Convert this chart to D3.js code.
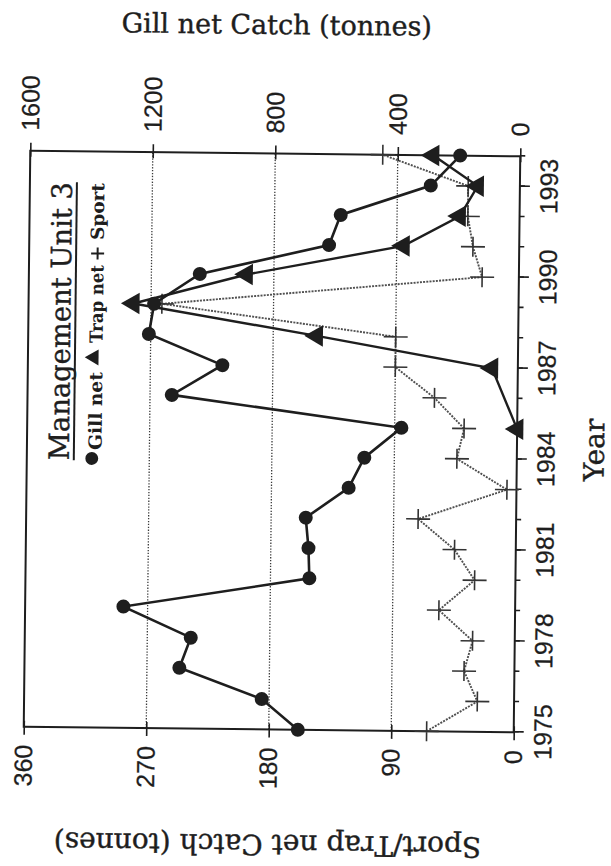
<!DOCTYPE html>
<html>
<head>
<meta charset="utf-8">
<script src="https://cdn.jsdelivr.net/npm/d3@7"></script>
<style>
  body { margin: 0; background: #fff; }
  svg { display: block; }
</style>
</head>
<body>
<svg id="chart" width="611" height="866"></svg>
<script>
// ---- data -------------------------------------------------------------
const years = [1975, 1976, 1977, 1978, 1979, 1980, 1981, 1982, 1983, 1984,
               1985, 1986, 1987, 1988, 1989, 1990, 1991, 1992, 1993, 1994];
// Gill net catch (tonnes), right-hand scale
const gillNet = [705, 824, 1094, 1058, 1279, 673, 677, 687, 548, 498,
                 378, 1129, 965, 1206, 1190, 1042, 621, 584, 291, 196];
// Trap net catch (tonnes), left-hand scale
const trapYears = [1985, 1987, 1988, 1989, 1990, 1991, 1992, 1993, 1994];
const trapNet   = [0, 19, 148, 283, 200, 85, 44, 31, 64];
// Sport catch (tonnes), left-hand scale
const sport = [64, 27, 37, 31, 56, 30, 45, 72, 7, 44,
               39, 61, 90, 90, 262, 27, 34, 38, 38, 101];

const yearLabels = [1975, 1978, 1981, 1984, 1987, 1990, 1993];
const gillTicks  = [0, 400, 800, 1200, 1600];
const sportTicks = [0, 90, 180, 270, 360];

// ---- layout -----------------------------------------------------------
const W = 576, H = 490;            // plot size in the chart's own frame
const ink = "#1e1e1e";
const serif = "'DejaVu Serif', 'Liberation Serif', serif";
const sans = "'Liberation Sans', Arial, sans-serif";

const svg = d3.select("#chart");
// the whole figure is laid on its side (year axis running upward)
const root = svg.append("g")
  .attr("transform", "rotate(0.65,272,441.5) translate(27,729.5) rotate(-90)");

const x = d3.scaleLinear().domain([1975, 1994]).range([0, W]);
const yGill = d3.scaleLinear().domain([0, 1600]).range([H, 0]);
const ySport = d3.scaleLinear().domain([0, 360]).range([H, 0]);

// dotted gridlines
root.append("g").selectAll("line")
  .data(sportTicks.slice(1, -1))
  .join("line")
  .attr("x1", 0).attr("x2", W)
  .attr("y1", d => ySport(d)).attr("y2", d => ySport(d))
  .attr("stroke", "#3a3a3a")
  .attr("stroke-width", 1.3)
  .attr("stroke-dasharray", "1.3,1.6");

// frame
root.append("rect")
  .attr("width", W).attr("height", H)
  .attr("fill", "none").attr("stroke", ink).attr("stroke-width", 2);

function styleAxis(g, size) {
  g.select(".domain").remove();
  g.selectAll(".tick line").attr("stroke", ink).attr("stroke-width", 1.6);
  g.selectAll(".tick text")
    .attr("fill", ink)
    .attr("stroke", ink)
    .attr("stroke-width", 0.25)
    .style("font-family", sans)
    .style("font-size", size + "px");
}

// year axis: a tick every year, labels every third year
root.append("g")
  .attr("transform", `translate(0,${H})`)
  .call(d3.axisBottom(x).tickValues(years).tickSize(5).tickFormat(""))
  .call(g => styleAxis(g, 25));
root.append("g")
  .attr("transform", `translate(0,${H})`)
  .call(d3.axisBottom(x).tickValues(yearLabels).tickSize(10).tickPadding(10).tickFormat(d3.format("d")))
  .call(g => styleAxis(g, 25));

// sport / trap net axis
root.append("g")
  .attr("transform", "translate(6,0)")
  .call(d3.axisLeft(ySport).tickValues(sportTicks).tickSize(14).tickPadding(10).tickFormat(d3.format("d")))
  .call(g => styleAxis(g, 25));

// gill net axis
root.append("g")
  .attr("transform", `translate(${W - 6},0)`)
  .call(d3.axisRight(yGill).tickValues(gillTicks).tickSize(14).tickPadding(12).tickFormat(d3.format("d")))
  .call(g => styleAxis(g, 25));

// ---- series -----------------------------------------------------------
const sportData = years.map((yr, i) => ({ year: yr, v: sport[i] }));
const gillData = years.map((yr, i) => ({ year: yr, v: gillNet[i] }));
const trapData = trapYears.map((yr, i) => ({ year: yr, v: trapNet[i] }));

// sport: dotted grey line with plus markers
root.append("path")
  .datum(sportData)
  .attr("fill", "none")
  .attr("stroke", "#505050")
  .attr("stroke-width", 1.9)
  .attr("stroke-dasharray", "2,1.2")
  .attr("d", d3.line().x(d => x(d.year)).y(d => ySport(d.v)));
root.append("g").selectAll("path")
  .data(sportData)
  .join("path")
  .attr("transform", d => `translate(${x(d.year)},${ySport(d.v)})`)
  .attr("d", "M0,-12V12M-10,0H10")
  .attr("stroke", "#333")
  .attr("stroke-width", 1.6)
  .attr("fill", "none");

// trap net: solid line with triangles
root.append("path")
  .datum(trapData)
  .attr("fill", "none")
  .attr("stroke", ink)
  .attr("stroke-width", 2.4)
  .attr("d", d3.line().x(d => x(d.year)).y(d => ySport(d.v)));
root.append("g").selectAll("path")
  .data(trapData)
  .join("path")
  .attr("transform", d => `translate(${x(d.year)},${ySport(d.v)})`)
  .attr("d", d3.symbol(d3.symbolTriangle, 200))
  .attr("fill", ink);

// gill net: solid line with circles
root.append("path")
  .datum(gillData)
  .attr("fill", "none")
  .attr("stroke", ink)
  .attr("stroke-width", 2.6)
  .attr("d", d3.line().x(d => x(d.year)).y(d => yGill(d.v)));
root.append("g").selectAll("circle")
  .data(gillData)
  .join("circle")
  .attr("cx", d => x(d.year))
  .attr("cy", d => yGill(d.v))
  .attr("r", 7)
  .attr("fill", ink);

// ---- titles -----------------------------------------------------------
function serifText(sel, size) {
  return sel.attr("fill", ink)
    .attr("stroke", ink)
    .attr("stroke-width", 0.4)
    .style("font-family", serif)
    .style("font-size", size + "px");
}

root.append("text")
  .attr("transform", `translate(${W + 119.5},${H / 2}) rotate(90)`)
  .attr("text-anchor", "middle")
  .call(serifText, 27)
  .text("Gill net Catch (tonnes)");

root.append("text")
  .attr("transform", `translate(-105.5,${H / 2}) rotate(-90)`)
  .attr("text-anchor", "middle")
  .call(serifText, 28)
  .text("Sport/Trap net Catch (tonnes)");

root.append("text")
  .attr("x", W / 2 - 5)
  .attr("y", H + 87)
  .attr("text-anchor", "middle")
  .call(serifText, 28)
  .text("Year");

// ---- legend -----------------------------------------------------------
const legend = root.append("g");
legend.append("text")
  .attr("x", 267).attr("y", 42)
  .attr("textLength", 278)
  .attr("lengthAdjust", "spacingAndGlyphs")
  .call(serifText, 28)
  .text("Management Unit 3");
legend.append("line")
  .attr("x1", 267).attr("x2", 545)
  .attr("y1", 47).attr("y2", 47)
  .attr("stroke", ink).attr("stroke-width", 2);

const rowY = 74.5;
legend.append("path")
  .attr("transform", "translate(269,65)")
  .attr("d", d3.symbol(d3.symbolCircle, 130))
  .attr("fill", ink);
legend.append("path")
  .attr("transform", "translate(370,66)")
  .attr("d", d3.symbol(d3.symbolTriangle, 110))
  .attr("fill", ink);
legend.append("path")
  .attr("transform", "translate(474,68.5)")
  .attr("d", "M0,-6.5V6.5M-6,0H6")
  .attr("stroke", ink).attr("stroke-width", 2);

const legendItems = [
  { label: "Gill net", x: 277.5, len: 78 },
  { label: "Trap net", x: 384.5, len: 78 },
  { label: "Sport", x: 487.5, len: 57 }
];
legend.selectAll("text.item")
  .data(legendItems)
  .join("text")
  .attr("class", "item")
  .attr("x", d => d.x)
  .attr("y", rowY)
  .attr("textLength", d => d.len)
  .attr("lengthAdjust", "spacingAndGlyphs")
  .attr("fill", ink)
  .style("font-family", serif)
  .style("font-weight", "bold")
  .style("font-size", "18px")
  .text(d => d.label);
</script>
</body>
</html>
